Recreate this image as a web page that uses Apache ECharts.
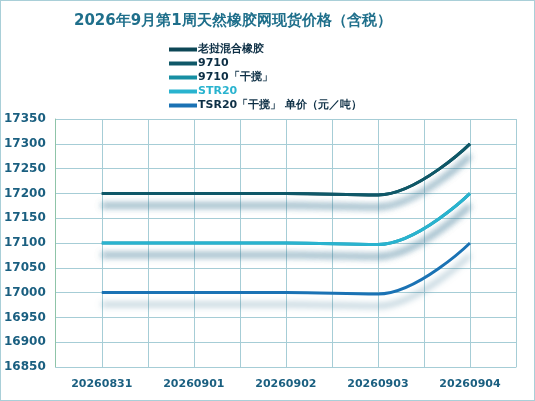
<!DOCTYPE html>
<html><head><meta charset="utf-8">
<script src="https://cdn.jsdelivr.net/npm/echarts@6/dist/echarts.min.js"></script>
<style>html,body{margin:0;padding:0;background:#fff}#c{width:533px;height:399px;border:1px solid #a9cfd8}</style>
</head><body><div id="c"></div>
<script>
const categories = ['20260831','20260901','20260902','20260903','20260904'];
const seriesNames = ['老挝混合橡胶','9710','9710「干搅」','STR20','TSR20「干搅」 单价（元／吨）'];
const s1 = [17200,17200,17200,17197,17300];
const s2 = [17200,17200,17200,17197,17300];
const s3 = [17100,17100,17100,17097,17200];
const s4 = [17100,17100,17100,17097,17200];
const s5 = [17000,17000,17000,16997,17100];
const colors = ['#0d4756','#0f5868','#178fa3','#29b3cf','#1a72b4'];
const data = [s1,s2,s3,s4,s5];
const chart = echarts.init(document.getElementById('c'));
const font = 'Verdana, DejaVu Sans, sans-serif';
chart.setOption({
  backgroundColor:'#fff',
  title:{text:'2026年9月第1周天然橡胶网现货价格（含税）',left:68,top:8,textStyle:{color:'#1f6f8b',fontSize:15,fontWeight:'bold',fontFamily:font}},
  legend:{orient:'vertical',left:163,top:38,itemGap:3,itemWidth:28,itemHeight:4,icon:'rect',
    data:seriesNames.map((n,i)=>({name:n,textStyle:{color:i==3?'#29b3cf':'#0d2f45'}})),
    textStyle:{fontSize:11,fontWeight:'bold',fontFamily:font,padding:[0,0,0,-4]}},
  grid:{left:53,right:18,top:118,bottom:33},
  xAxis:[{type:'category',data:categories,boundaryGap:true,
    axisLine:{lineStyle:{color:'#a6cdd6'}},axisTick:{show:false},splitLine:{show:false},
    axisLabel:{color:'#1a5f80',fontSize:11,fontFamily:font,fontWeight:'bold',margin:12}},
   {type:'category',data:[0,1,2,3,4,5,6,7,8,9],boundaryGap:true,position:'bottom',
    axisLine:{show:false},axisTick:{show:false},axisLabel:{show:false},
    splitLine:{show:true,interval:0,lineStyle:{color:'#a6cdd6'}}}],
  yAxis:{type:'value',min:16850,max:17350,interval:50,
    axisLine:{show:true,lineStyle:{color:'#8fc4a8'}},axisTick:{show:false},
    splitLine:{lineStyle:{color:'#a6cdd6'}},
    axisLabel:{color:'#1a5f80',fontSize:12,fontFamily:font,fontWeight:'bold',margin:10,formatter:v=>String(v)}},
  series:data.map((d,i)=>({name:seriesNames[i],type:'line',data:d,smooth:0.4,symbol:'none',
    lineStyle:{color:colors[i],width:3,shadowColor:'rgba(60,120,150,0.55)',shadowBlur:6,shadowOffsetY:12},
    itemStyle:{color:colors[i]}}))
});
</script></body></html>
